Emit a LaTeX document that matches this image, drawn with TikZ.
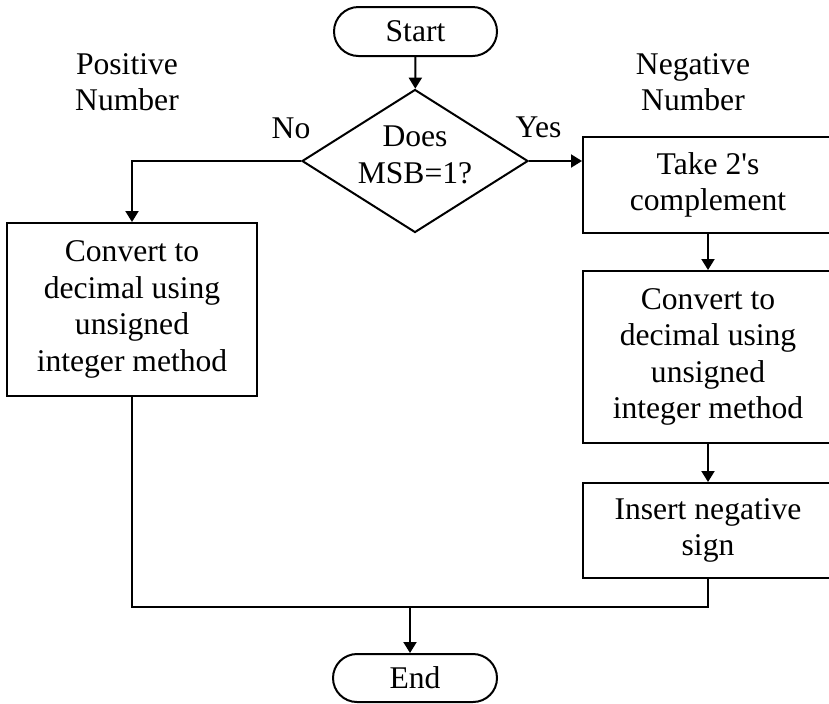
\documentclass[tikz,border=0pt]{standalone}
\usepackage{fontspec}
\setmainfont{Liberation Serif}
\usetikzlibrary{shapes.geometric, shapes.misc, arrows.meta}
\newcommand{\flowfont}{\fontsize{15.8}{18.3}\selectfont}
\tikzset{
  flow/.style={draw, line width=1pt, align=center, inner sep=0pt, font=\flowfont},
  terminal/.style={flow, rounded rectangle, minimum width=81.5pt, minimum height=24.5pt},
  decision/.style={flow, diamond, aspect=1.58, minimum width=113pt, minimum height=71.5pt},
  process/.style={flow, rectangle, minimum width=125pt},
  tag/.style={align=center, inner sep=0pt, font=\flowfont},
}

\begin{document}
\begin{tikzpicture}[x=0.5pt, y=-0.5pt, >={Triangle[length=5.5pt,width=6.5pt]}, line width=1pt]
\useasboundingbox (0,0) rectangle (829,703);

\draw(415.5,31.5) node[terminal] (start) {Start};
\draw(415,161) node[decision] (msb) {Does\\MSB=1?\\[-12pt]\mbox{}};
\draw(132,309.5) node[process, minimum height=86.5pt] (convpos) {Convert to\\decimal using\\unsigned\\integer method};
\draw(708,185) node[process, minimum height=48pt] (twos) {Take 2\textquotesingle s\\complement};
\draw(708,357) node[process, minimum height=86pt] (convneg) {Convert to\\decimal using\\unsigned\\integer method};
\draw(708,530.5) node[process, minimum height=47.5pt] (insert) {Insert negative\\sign};
\draw(415,678) node[terminal, minimum width=82pt, minimum height=24pt] (stop) {End};

\draw(127,82) node[tag] (pos) {Positive\\Number};
\draw(693,82) node[tag] (neg) {Negative\\Number};
\draw(291,138) node[tag, anchor=base] (no) {No};
\draw(538.5,137) node[tag, anchor=base] (yes) {Yes};

\coordinate (join) at (410,607);

\draw[->] (start) -- (msb);
\draw[->] (msb.west) -| (convpos.north);
\draw[->] (msb.east) -- (msb.east -| twos.west);
\draw[->] (twos) -- (convneg);
\draw[->] (convneg) -- (insert);
\draw (convpos.south) |- (join) -| (insert.south);
\draw[->] (join) -- (join |- stop.north);

\end{tikzpicture}
\end{document}
